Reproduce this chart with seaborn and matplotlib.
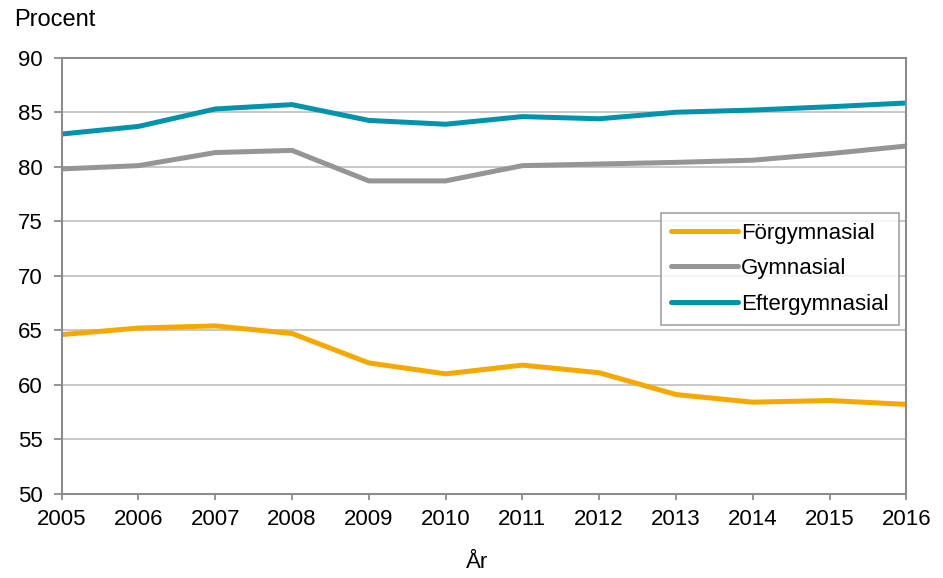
import numpy as np
import pandas as pd
import matplotlib
matplotlib.use("Agg")
import matplotlib.pyplot as plt
import seaborn as sns

# data
years = [2005, 2006, 2007, 2008, 2009, 2010, 2011, 2012, 2013, 2014, 2015, 2016]
forgymnasial = [64.6, 65.2, 65.4, 64.7, 62.0, 61.0, 61.8, 61.1, 59.1, 58.4, 58.55, 58.2]
gymnasial = [79.8, 80.1, 81.3, 81.5, 78.7, 78.7, 80.1, 80.25, 80.4, 80.6, 81.2, 81.9]
eftergymnasial = [83.0, 83.7, 85.3, 85.7, 84.25, 83.9, 84.6, 84.4, 85.0, 85.2, 85.5, 85.85]
series_names = ["Förgymnasial", "Gymnasial", "Eftergymnasial"]
colors = ["#F5A800", "#959595", "#0093AB"]
y_ticks = [50, 55, 60, 65, 70, 75, 80, 85, 90]

df = pd.DataFrame({
    "year": years * 3,
    "value": forgymnasial + gymnasial + eftergymnasial,
    "serie": [series_names[0]] * len(years) + [series_names[1]] * len(years) + [series_names[2]] * len(years),
})

sns.set_style("white")
plt.rcParams["font.family"] = ["Liberation Sans", "DejaVu Sans"]
plt.rcParams["text.color"] = "black"
plt.rcParams["xtick.labelcolor"] = "black"
plt.rcParams["ytick.labelcolor"] = "black"

fig = plt.figure(figsize=(9.43, 5.78), dpi=100)
ax = fig.add_axes([0.0654, 0.1458, 0.8957, 0.7543])

sns.lineplot(data=df, x="year", y="value", hue="serie", hue_order=series_names,
             palette=colors, linewidth=3.6, ax=ax, legend=True)

ax.set_xlim(2005, 2016)
ax.set_ylim(50, 90)
ax.set_xticks(years)
ax.set_yticks(y_ticks)
ax.set_xticklabels([str(y) for y in years])
ax.yaxis.grid(True, color="#BFBFBF", linewidth=1.2)
ax.set_axisbelow(True)
ax.set_xlabel("")
ax.set_ylabel("")

for side in ["left", "bottom", "top", "right"]:
    ax.spines[side].set_color("#8C8C8C")
    ax.spines[side].set_linewidth(1.5)
    ax.spines[side].set_visible(True)

ax.tick_params(axis="y", direction="out", length=5.5, width=1.3, color="#8C8C8C",
               labelsize=16, labelcolor="black", pad=8, left=True)
ax.tick_params(axis="x", direction="out", length=4, width=1.3, color="#8C8C8C",
               labelsize=16, labelcolor="black", pad=7, bottom=True)

leg = ax.legend(loc="upper right", bbox_to_anchor=(0.991, 0.6445), borderaxespad=0,
                fontsize=16, handlelength=3.0, handletextpad=0.15, labelspacing=0.65,
                frameon=True, fancybox=False, edgecolor="#8C8C8C", borderpad=0.45)
leg.get_frame().set_linewidth(1.2)
for line in leg.get_lines():
    line.set_linewidth(3.6)

fig.text(0.015, 0.985, "Procent", fontsize=17, ha="left", va="top")
fig.text(0.506, 0.008, "År", fontsize=16, ha="center", va="bottom")

fig.savefig("out.png", dpi=100)
